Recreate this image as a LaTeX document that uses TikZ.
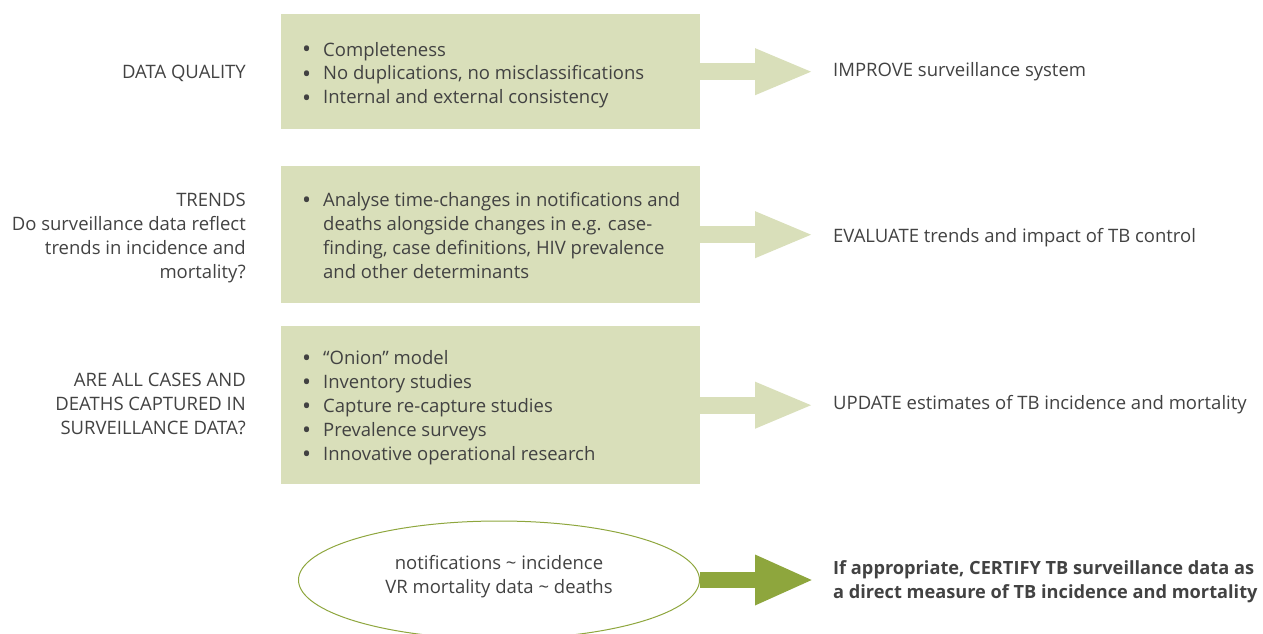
\documentclass[tikz,border=0pt]{standalone}
\usepackage{fontspec}
\setmainfont{Open Sans}
\usetikzlibrary{shapes.geometric,arrows.meta}
\definecolor{boxgreen}{HTML}{D9DFBA}
\definecolor{darkgreen}{HTML}{8EA63D}
\definecolor{txt}{HTML}{424242}
\newcommand{\bul}{\raisebox{-2pt}{\fontsize{24}{24}\selectfont •}}
\begin{document}
\begin{tikzpicture}[x=1pt,y=-1pt,
  every node/.style={inner sep=0pt, text=txt, font=\fontsize{18.5}{24}\selectfont},
  box/.style={fill=boxgreen, minimum width=419pt, anchor=north west},
  btxt/.style={anchor=west},
  lbl/.style={anchor=east},
  rtxt/.style={anchor=west},
  arr/.style={boxgreen, line width=17pt, -{Triangle[length=59pt,width=42pt]}},
  darr/.style={darkgreen, line width=16pt, -{Triangle[length=59pt,width=46pt]}},
]
\useasboundingbox (0,0) rectangle (1263,634);
% boxes
\node[box, minimum height=115pt] (b1) at (281,14) {};
\node[box, minimum height=137pt] (b2) at (281,166) {};
\node[box, minimum height=158pt] (b3) at (281,326) {};
% box texts
\node[btxt] (bt1) at ([xshift=21pt,yshift=-3.5pt]b1.west) {\begin{tabular}{@{}p{21pt}@{}l@{}}
\bul & Completeness\\
\bul & No duplications, no misclassifications\\
\bul & Internal and external consistency
\end{tabular}};
\node[btxt] (bt2) at ([xshift=21pt,yshift=-2.5pt]b2.west) {\begin{tabular}{@{}p{21pt}@{}l@{}}
\bul & Analyse time-changes in notifications and\\
  & deaths alongside changes in e.g. case-\\
  & finding, case definitions, HIV prevalence\\
  & and other determinants
\end{tabular}};
\node[btxt] (bt3) at ([xshift=21pt,yshift=-2.5pt]b3.west) {\begin{tabular}{@{}p{21pt}@{}l@{}}
\bul & “Onion” model\\
\bul & Inventory studies\\
\bul & Capture re-capture studies\\
\bul & Prevalence surveys\\
\bul & Innovative operational research
\end{tabular}};
% left labels
\node[lbl] (l1) at (246,74) {\begin{tabular}{@{}r@{}}DATA QUALITY\end{tabular}};
\node[lbl] (l2) at (246,238) {\begin{tabular}{@{}r@{}}TRENDS\\ Do surveillance data reflect\\ trends in incidence and\\ mortality?\end{tabular}};
\node[lbl] (l3) at (246,406) {\begin{tabular}{@{}r@{}}ARE ALL CASES AND\\ DEATHS CAPTURED IN\\ SURVEILLANCE DATA?\end{tabular}};
% right texts
\node[rtxt] (r1) at (833,72) {\begin{tabular}{@{}l@{}}IMPROVE surveillance system\end{tabular}};
\node[rtxt] (r2) at (833,238) {\begin{tabular}{@{}l@{}}EVALUATE trends and impact of TB control\end{tabular}};
\node[rtxt] (r3) at (833,405) {\begin{tabular}{@{}l@{}}UPDATE estimates of TB incidence and mortality\end{tabular}};
\node[rtxt, font=\fontsize{18.2}{24}\selectfont\bfseries] (r4) at (833,582) {\begin{tabular}{@{}l@{}}If appropriate, CERTIFY TB surveillance data as\\ a direct measure of TB incidence and mortality\end{tabular}};
% ellipse
\node[ellipse, draw=darkgreen, line width=1pt, minimum width=401pt, minimum height=118pt] (e) at (499,580) {};
\node (et) at ([yshift=3pt]e.center)
  {\begin{tabular}{@{}c@{}}notifications \textasciitilde{} incidence\\ VR mortality data \textasciitilde{} deaths\end{tabular}};
% arrows
\coordinate (t1) at (814,72);
\coordinate (t2) at (814,235);
\coordinate (t3) at (814,405);
\coordinate (t4) at (814,580);
\draw[arr] (b1.east) -- (b1.east -| t1);
\draw[arr] (b2.east) -- (b2.east -| t2);
\draw[arr] (b3.east) -- (b3.east -| t3);
\draw[darr] (e.east) -- (e.east -| t4);
\end{tikzpicture}
\end{document}
